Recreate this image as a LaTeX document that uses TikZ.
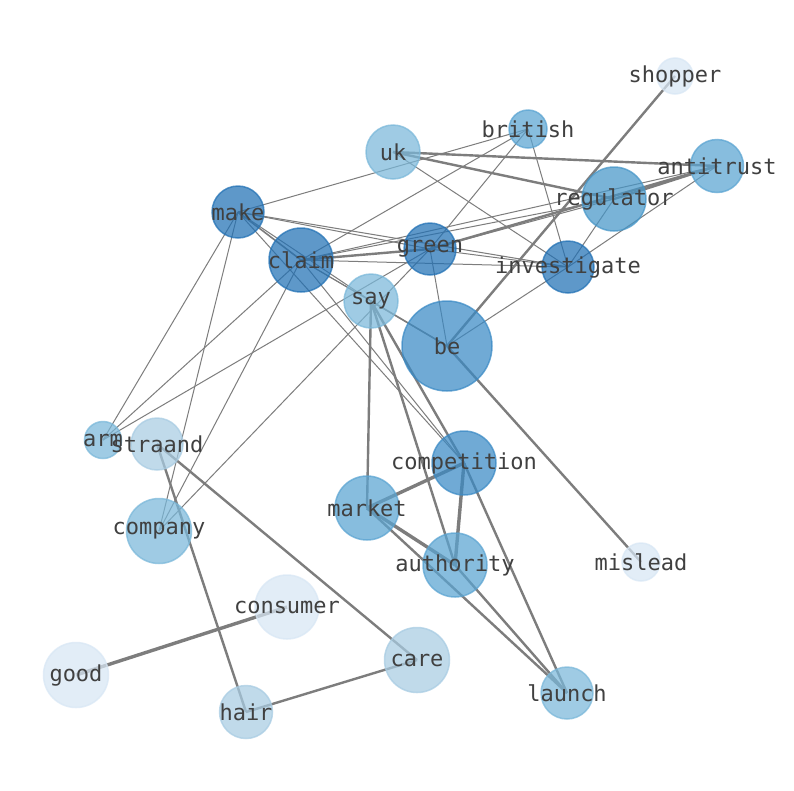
\documentclass[tikz,border=0pt]{standalone}
\usepackage{fontspec}
\newfontfamily\wordfont{DejaVu Sans Mono}
\usetikzlibrary{positioning}
\pgfdeclarelayer{background}
\pgfsetlayers{background,main}
\definecolor{cA}{RGB}{33,113,181}
\definecolor{cB}{RGB}{58,138,197}
\definecolor{cC}{RGB}{70,150,200}
\definecolor{cD}{RGB}{90,164,210}
\definecolor{cE}{RGB}{122,184,218}
\definecolor{cF}{RGB}{168,204,227}
\definecolor{cG}{RGB}{216,231,245}
\definecolor{edgegray}{RGB}{125,125,125}
\definecolor{wordgray}{RGB}{64,64,64}
\tikzset{
  word/.style={circle, inner sep=0pt, fill=#1, draw=#1, line width=1.5pt,
    fill opacity=.72, draw opacity=.72},
  every label/.style={font=\wordfont\fontsize{22}{24}\selectfont, text=wordgray,
    text opacity=1, fill opacity=1, draw opacity=1, inner sep=0pt},
  w1/.style={line width=1pt},
  w2/.style={line width=1.6pt},
  w3/.style={line width=2.4pt},
  w4/.style={line width=3.4pt}
}
\begin{document}
\begin{tikzpicture}[x=1pt, y=-1pt]
      \node[word=cG, minimum size=36pt, label=center:shopper] (shopper) at (675,76) {};
      \node[word=cD, minimum size=38pt, label=center:british] (british) at (528,129) {};
      \node[word=cE, minimum size=54pt, label=center:uk] (uk) at (393,152) {};
      \node[word=cD, minimum size=53pt, label=center:antitrust] (antitrust) at (717,166) {};
      \node[word=cC, minimum size=64pt, label=center:regulator] (regulator) at (614,199) {};
      \node[word=cA, minimum size=52pt, label=center:make] (make) at (238,212) {};
      \node[word=cA, minimum size=52pt, label=center:green] (green) at (430,249) {};
      \node[word=cA, minimum size=64pt, label=center:claim] (claim) at (301,260) {};
      \node[word=cA, minimum size=52pt, label=center:investigate] (investigate) at (568,267) {};
      \node[word=cE, minimum size=54pt, label=center:say] (say) at (371,301) {};
      \node[word=cB, minimum size=90pt, label=center:be] (be) at (447,346) {};
      \node[word=cE, minimum size=37pt, label=center:arm] (arm) at (103,440) {};
      \node[word=cF, minimum size=52pt, label=center:straand] (straand) at (157,444) {};
      \node[word=cB, minimum size=64pt, label=center:competition] (competition) at (464,463) {};
      \node[word=cD, minimum size=64pt, label=center:market] (market) at (367,508) {};
      \node[word=cE, minimum size=65pt, label=center:company] (company) at (159,531) {};
      \node[word=cD, minimum size=64pt, label=center:authority] (authority) at (455,565) {};
      \node[word=cG, minimum size=38pt, label=center:mislead] (mislead) at (641,562) {};
      \node[word=cG, minimum size=64pt, label=center:consumer] (consumer) at (287,607) {};
      \node[word=cG, minimum size=65pt, label=center:good] (good) at (76,675) {};
      \node[word=cF, minimum size=65pt, label=center:care] (care) at (417,660) {};
      \node[word=cE, minimum size=52pt, label=center:launch] (launch) at (567,693) {};
      \node[word=cF, minimum size=53pt, label=center:hair] (hair) at (246,712) {};
      \begin{pgfonlayer}{background}
      \fill[white] (0,0) rectangle (794,790);
      \begin{scope}[-, draw=edgegray, w1]
        \draw (make.center) to (british.center);
        \draw (make.center) to (green.center);
        \draw (make.center) to (investigate.center);
        \draw (make.center) to (say.center);
        \draw (make.center) to (competition.center);
        \draw (make.center) to (arm.center);
        \draw (make.center) to (company.center);
        \draw (claim.center) to (british.center);
        \draw (claim.center) to (regulator.center);
        \draw (claim.center) to (antitrust.center);
        \draw (claim.center) to (investigate.center);
        \draw (claim.center) to (say.center);
        \draw (claim.center) to (be.center);
        \draw (claim.center) to (competition.center);
        \draw (claim.center) to (arm.center);
        \draw (claim.center) to (company.center);
        \draw (green.center) to (british.center);
        \draw (green.center) to (regulator.center);
        \draw (green.center) to (investigate.center);
        \draw (green.center) to (be.center);
        \draw (green.center) to (arm.center);
        \draw (green.center) to (company.center);
        \draw (uk.center) to (investigate.center);
        \draw (british.center) to (investigate.center);
        \draw (investigate.center) to (regulator.center);
        \draw (investigate.center) to (antitrust.center);
        \draw (be.center) to (investigate.center);
        \draw[w2] (make.center) to (claim.center);
        \draw[w2] (say.center) to (be.center);
        \draw[w3] (uk.center) to (antitrust.center);
        \draw[w3] (uk.center) to (regulator.center);
        \draw[w3] (regulator.center) to (antitrust.center);
        \draw[w3] (green.center) to (antitrust.center);
        \draw[w3] (claim.center) to (green.center);
        \draw[w3] (be.center) to (shopper.center);
        \draw[w3] (be.center) to (mislead.center);
        \draw[w3] (say.center) to (market.center);
        \draw[w3] (say.center) to (authority.center);
        \draw[w3] (say.center) to (competition.center);
        \draw[w3] (competition.center) to (launch.center);
        \draw[w3] (market.center) to (launch.center);
        \draw[w3] (authority.center) to (launch.center);
        \draw[w3] (straand.center) to (hair.center);
        \draw[w3] (straand.center) to (care.center);
        \draw[w3] (hair.center) to (care.center);
        \draw[w4] (market.center) to (competition.center);
        \draw[w4] (competition.center) to (authority.center);
        \draw[w4] (market.center) to (authority.center);
        \draw[w4] (good.center) to (consumer.center);
      \end{scope}
      \end{pgfonlayer}
    \end{tikzpicture}
\end{document}
